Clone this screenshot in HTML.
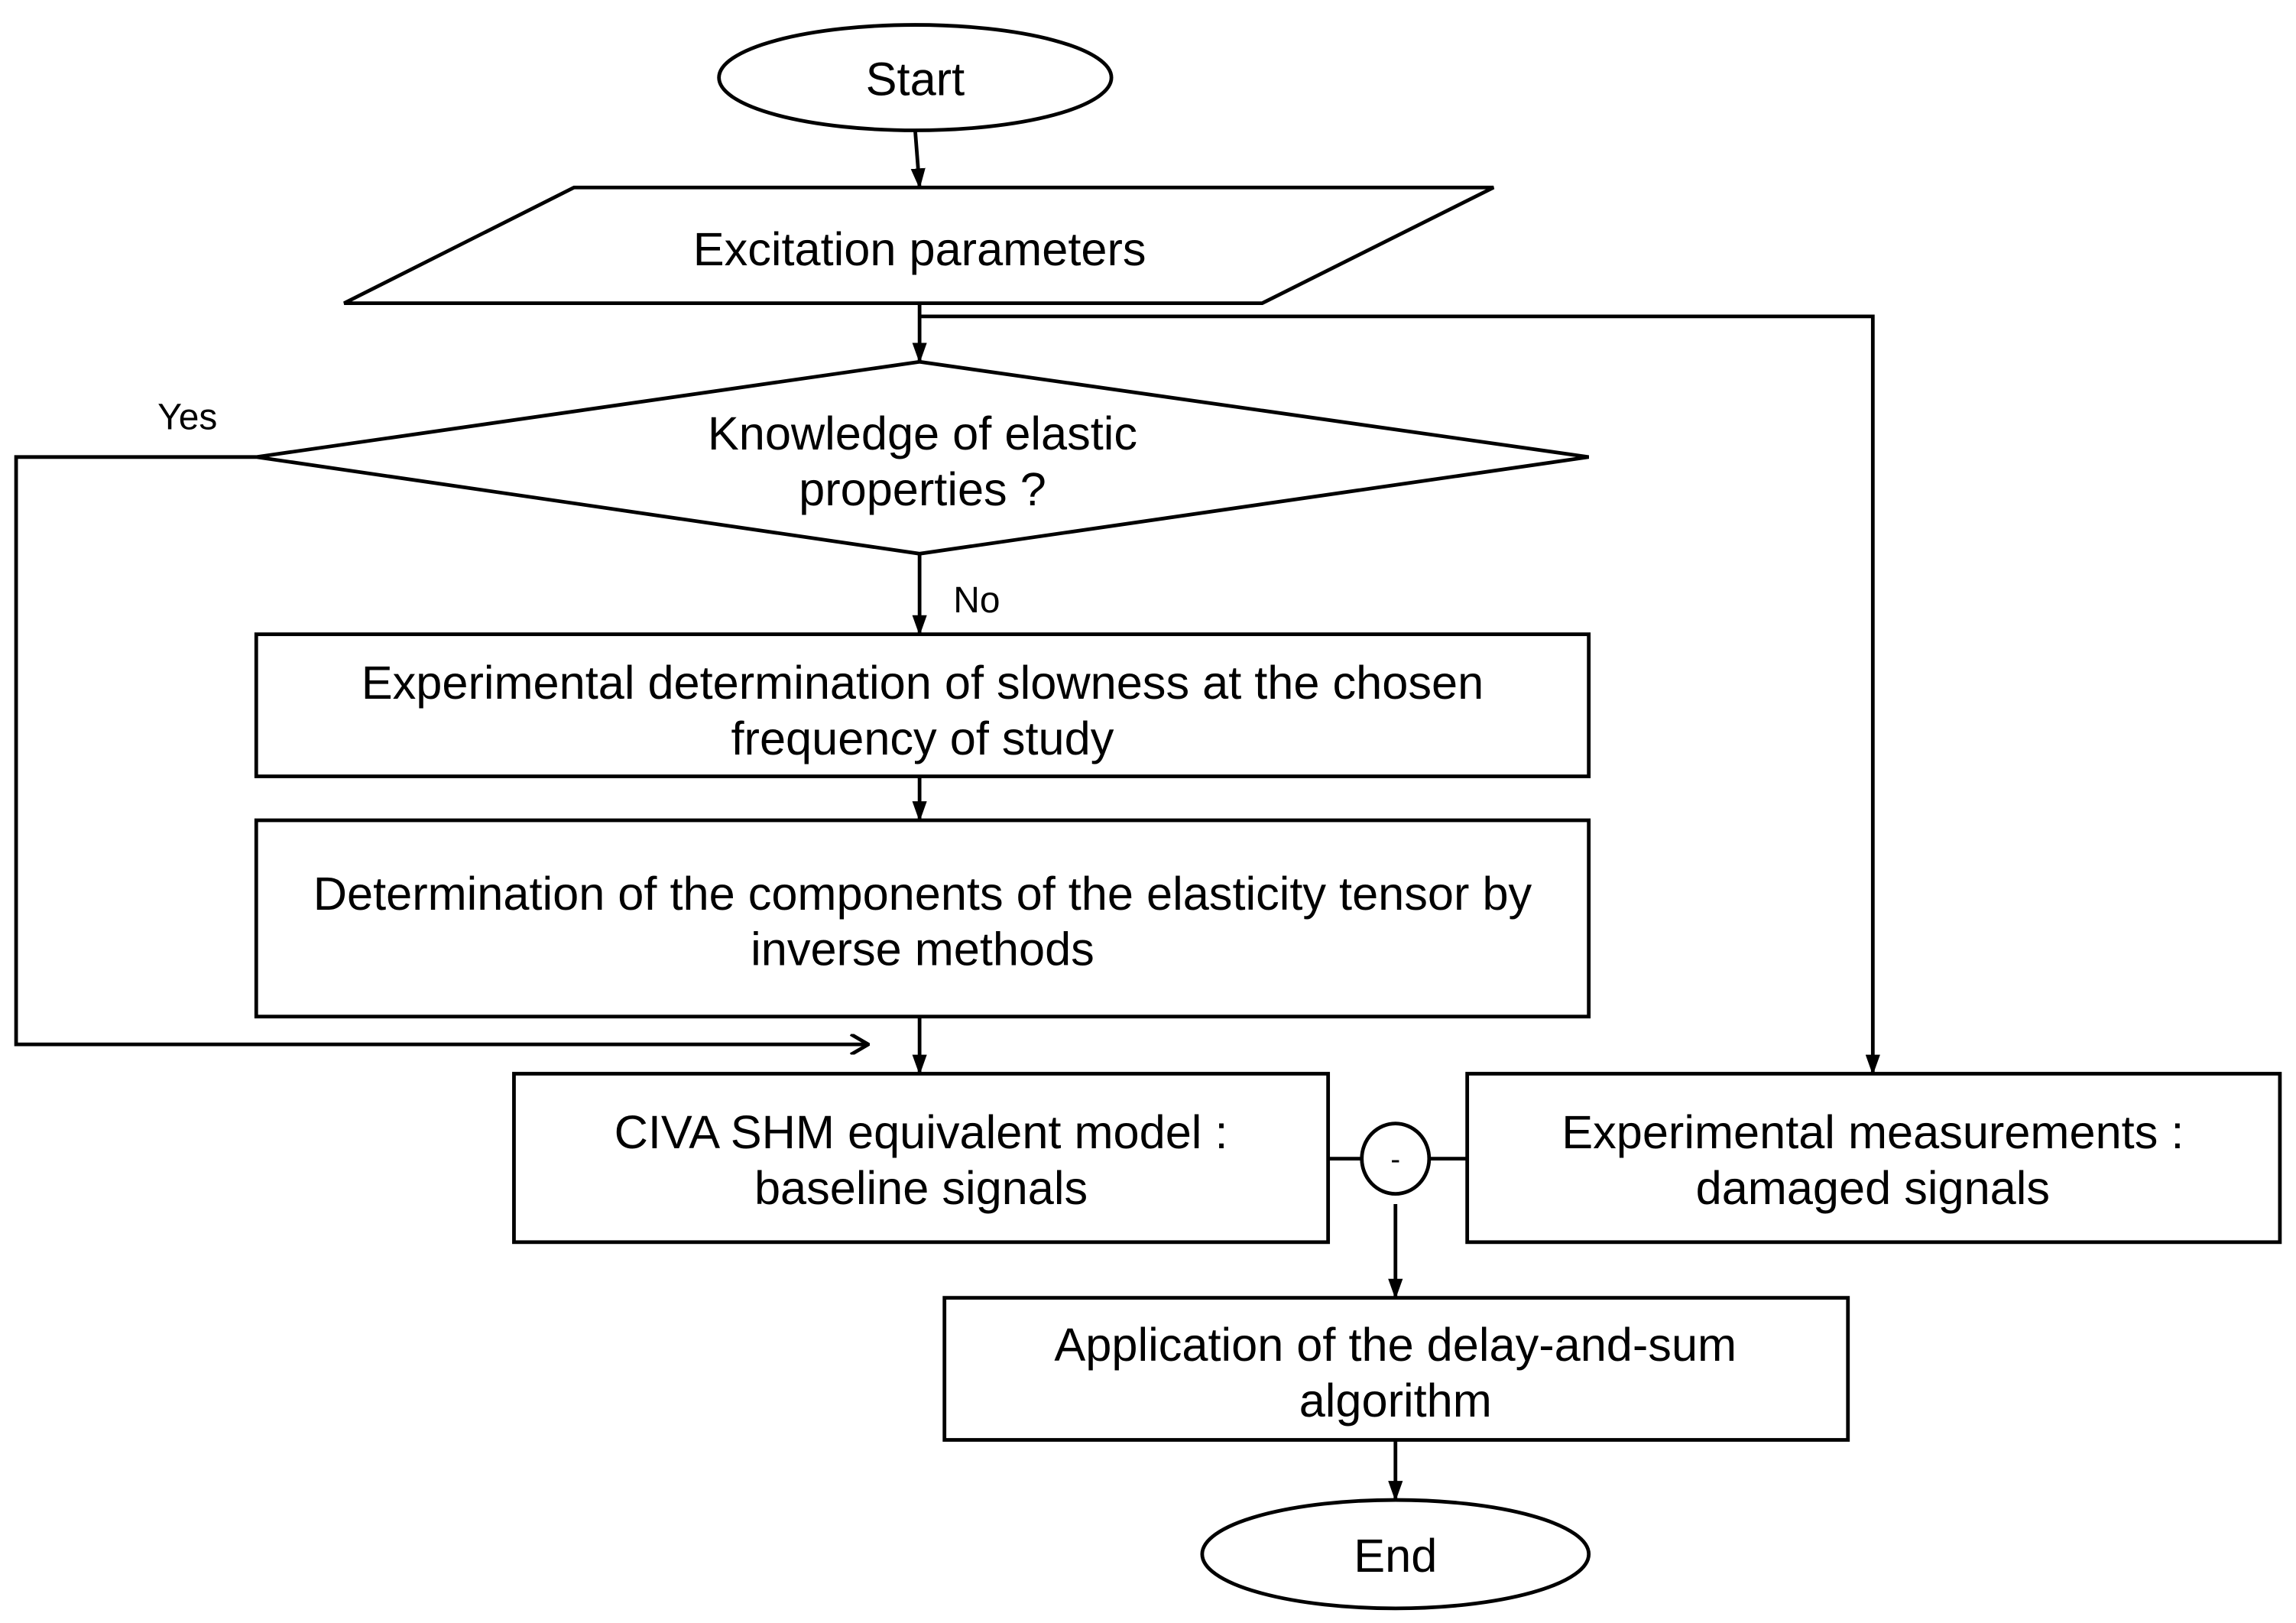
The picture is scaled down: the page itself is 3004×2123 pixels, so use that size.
<!DOCTYPE html>
<html><head><meta charset="utf-8"><style>
html,body{margin:0;padding:0;background:#fff;}
svg{display:block;}
text{font-family:"Liberation Sans",Arial,sans-serif;font-size:32px;fill:#000;text-anchor:middle;}
</style></head><body>
<svg width="3004" height="2123" viewBox="0 0 1568 1108" preserveAspectRatio="none" xmlns="http://www.w3.org/2000/svg">
<defs>
<marker id="a" markerWidth="14" markerHeight="10" refX="13" refY="5" orient="auto" markerUnits="userSpaceOnUse">
<path d="M0,0 L14,5 L0,10 Z" fill="#000"/></marker>
<marker id="o" markerWidth="14" markerHeight="14" refX="13" refY="7" orient="auto" markerUnits="userSpaceOnUse">
<path d="M1,0 L13,7 L1,14" fill="none" stroke="#000" stroke-width="2.5"/></marker>
</defs>
<g fill="none" stroke="#000" stroke-width="2.5">
<ellipse cx="625" cy="53" rx="134" ry="36"/>
<line x1="625" y1="89" x2="628" y2="128" marker-end="url(#a)"/>
<polygon points="392,128 1020,128 862,207 235,207"/>
<line x1="628" y1="207" x2="628" y2="247" marker-end="url(#a)"/>
<polyline points="628,216 1279,216 1279,733" marker-end="url(#a)"/>
<polygon points="628,247 1085,312 628,378 175,312"/>
<polyline points="175,312 11,312 11,713 593,713" marker-end="url(#o)"/>
<line x1="628" y1="378" x2="628" y2="433" marker-end="url(#a)"/>
<rect x="175" y="433" width="910" height="97"/>
<line x1="628" y1="530" x2="628" y2="560" marker-end="url(#a)"/>
<rect x="175" y="560" width="910" height="134"/>
<line x1="628" y1="694" x2="628" y2="733" marker-end="url(#a)"/>
<rect x="351" y="733" width="556" height="115"/>
<rect x="1002" y="733" width="555" height="115"/>
<ellipse cx="953" cy="791" rx="23" ry="24"/>
<line x1="907" y1="791" x2="930" y2="791"/>
<line x1="976" y1="791" x2="1002" y2="791"/>
<line x1="953" y1="822" x2="953" y2="886" marker-end="url(#a)"/>
<rect x="645" y="886" width="617" height="97"/>
<line x1="953" y1="983" x2="953" y2="1024" marker-end="url(#a)"/>
<ellipse cx="953" cy="1061" rx="132" ry="37"/>
</g>
<text x="625" y="65">Start</text>
<text x="628" y="181">Excitation parameters</text>
<text x="630" y="307">Knowledge of elastic</text>
<text x="630" y="345">properties ?</text>
<text x="128" y="293" style="font-size:25px">Yes</text>
<text x="667" y="418" style="font-size:25px">No</text>
<text x="630" y="477">Experimental determination of slowness at the chosen</text>
<text x="630" y="515">frequency of study</text>
<text x="630" y="621">Determination of the components of the elasticity tensor by</text>
<text x="630" y="659">inverse methods</text>
<text x="629" y="784">CIVA SHM equivalent model :</text>
<text x="629" y="822">baseline signals</text>
<text x="1279" y="784">Experimental measurements :</text>
<text x="1279" y="822">damaged signals</text>
<text x="953" y="798" style="font-size:20px">-</text>
<text x="953" y="929">Application of the delay-and-sum</text>
<text x="953" y="967">algorithm</text>
<text x="953" y="1073">End</text>
</svg>
</body></html>
